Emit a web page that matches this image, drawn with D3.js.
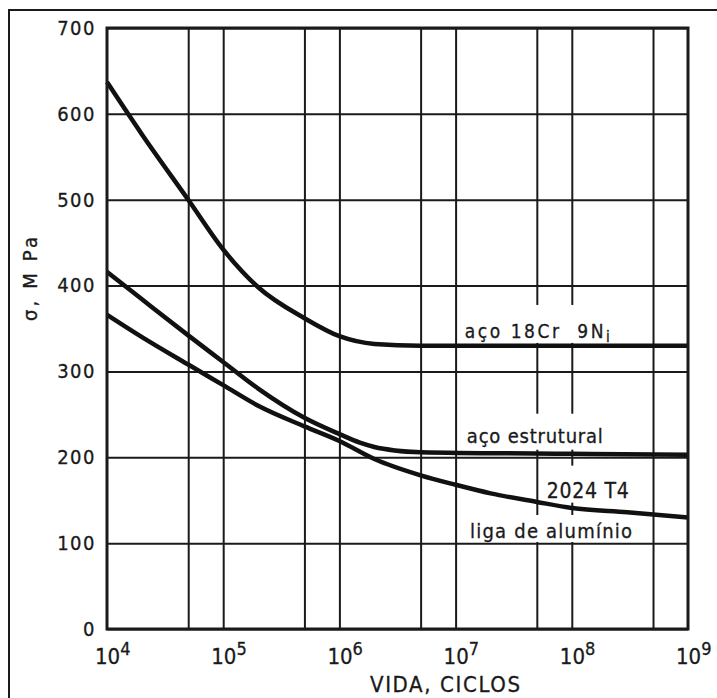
<!DOCTYPE html>
<html>
<head>
<meta charset="utf-8">
<script src="https://cdn.jsdelivr.net/npm/d3@7"></script>
<style>
  html, body { margin: 0; padding: 0; background: #fff; }
  svg { display: block; }
  text { font-family: "DejaVu Sans", sans-serif; font-stretch: condensed; fill: #1a1a1a; stroke: #1a1a1a; stroke-width: 0.3px; }
</style>
</head>
<body>
<div id="chart"></div>
<script>
// Tick values
const yTicks = [0, 100, 200, 300, 400, 500, 600, 700];
const xDecades = [4, 5, 6, 7, 8, 9];
const xGridValues = [5e4, 1e5, 5e5, 1e6, 5e6, 1e7, 5e7, 1e8, 5e8];

// aço 18Cr 9Ni
const cyclesCr = [1e4, 2e4, 5e4, 1e5, 2e5, 5e5, 1e6, 2e6, 5e6, 1e8, 1e9];
const sigmaCr = [637, 576, 500, 442, 398, 362, 341, 332, 330, 330, 330];

// aço estrutural
const cyclesSteel = [1e4, 2e4, 5e4, 1e5, 2e5, 5e5, 1e6, 1.5e6, 2e6, 3e6, 5e6, 1e8, 1e9];
const sigmaSteel = [416, 384, 342, 311, 280, 246, 227, 217, 212, 208, 206, 204, 203];

// 2024 T4 liga de alumínio
const cyclesAl = [1e4, 2e4, 5e4, 1e5, 2e5, 5e5, 1e6, 2e6, 5e6, 1e7, 2e7, 5e7, 1e8, 3e8, 1e9];
const sigmaAl = [366, 340, 308, 284, 260, 236, 219, 198, 179, 168, 158, 148, 141, 136, 130];

const series = [
    { name: 'cr', cycles: cyclesCr, sigma: sigmaCr },
    { name: 'steel', cycles: cyclesSteel, sigma: sigmaSteel },
    { name: 'al', cycles: cyclesAl, sigma: sigmaAl }
];

const width = 717, height = 698;
const margin = { top: 28, right: 29, bottom: 69, left: 107 };
const innerWidth = width - margin.left - margin.right;
const innerHeight = height - margin.top - margin.bottom;
const ink = '#1a1a1a';

const svg = d3.select('#chart').append('svg')
    .attr('width', width)
    .attr('height', height)
    .attr('viewBox', `0 0 ${width} ${height}`);

svg.append('rect').attr('width', width).attr('height', height).attr('fill', '#fff');

// outer frame (only left and top are visible in the scan)
svg.append('path')
    .attr('d', `M9,${height} L9,10 L${width},10`)
    .attr('fill', 'none')
    .attr('stroke', ink)
    .attr('stroke-width', 2);

const g = svg.append('g')
    .attr('transform', `translate(${margin.left},${margin.top})`);

const xScale = d3.scaleLog().domain([1e4, 1e9]).range([0, innerWidth]);
const yScale = d3.scaleLinear().domain([0, 700]).range([innerHeight, 0]);

// Grid horizontal + y labels
const yAxis = g.append('g')
    .call(d3.axisLeft(yScale).tickValues(yTicks).tickSize(-innerWidth).tickPadding(10).tickFormat(d3.format('d')));
yAxis.attr('font-family', null);
yAxis.select('.domain').remove();
yAxis.selectAll('line').attr('stroke', ink).attr('stroke-width', 2);
yAxis.selectAll('text')
    .style('font-size', '20px')
    .style('letter-spacing', '1.5px')
    .attr('fill', ink)
    .attr('x', -11);

// Grid vertical
const xGrid = g.append('g')
    .attr('transform', `translate(0,${innerHeight})`)
    .call(d3.axisBottom(xScale).tickValues(xGridValues).tickSize(-innerHeight).tickFormat(''));
xGrid.select('.domain').remove();
xGrid.selectAll('line').attr('stroke', ink).attr('stroke-width', 2);

// x labels 10^n
const xLabels = g.append('g');
xDecades.forEach(e => {
    const t = xLabels.append('text')
        .attr('x', xScale(Math.pow(10, e)) - 12)
        .attr('y', innerHeight + 35)
        .style('font-size', '22px');
    t.append('tspan').text('10');
    t.append('tspan').attr('dy', -9).style('font-size', '18px').text(e);
});

// curve labels with white masks behind them
const labels = [
    { text: 'aço 18Cr  9N', sub: 'i', n: 1.2e7, s: 339, size: 19, len: 145, padTop: 33, padBot: 5 },
    { text: 'aço estrutural', n: 1.25e7, s: 217, size: 20, len: 136, padTop: 29, padBot: 7 },
    { text: '2024 T4', n: 6.1e7, s: 153, size: 21, len: 82, padTop: 32, padBot: 5 },
    { text: 'liga de alumínio', n: 1.33e7, s: 106, size: 20, len: 162, padTop: 23, padBot: 4 }
];
const labelG = g.append('g');
labels.forEach(l => {
    const x = xScale(l.n), y = yScale(l.s);
    labelG.append('rect')
        .attr('x', x - 4)
        .attr('y', y - l.padTop)
        .attr('width', l.len + 8)
        .attr('height', l.padTop + l.padBot)
        .attr('fill', '#fff');
    const t = labelG.append('text')
        .attr('x', x)
        .attr('y', y)
        .attr('textLength', l.len)
        .attr('lengthAdjust', 'spacing')
        .style('white-space', 'pre')
        .style('font-size', l.size + 'px');
    t.append('tspan').text(l.text);
    if (l.sub) t.append('tspan').attr('dy', 4).style('font-size', '15px').text(l.sub);
});

// curves
const line = d3.line()
    .x(d => xScale(d[0]))
    .y(d => yScale(d[1]))
    .curve(d3.curveMonotoneX);

series.forEach(s => {
    g.append('path')
        .datum(s.cycles.map((c, i) => [c, s.sigma[i]]))
        .attr('class', `line ${s.name}`)
        .attr('d', line)
        .attr('fill', 'none')
        .attr('stroke', '#111')
        .attr('stroke-width', 4.5)
        .attr('stroke-linejoin', 'round');
});

// plot border
g.append('rect')
    .attr('width', innerWidth)
    .attr('height', innerHeight)
    .attr('fill', 'none')
    .attr('stroke', ink)
    .attr('stroke-width', 3);

// axis titles
svg.append('text')
    .attr('x', 445)
    .attr('y', 692)
    .attr('text-anchor', 'middle')
    .attr('textLength', 150)
    .attr('lengthAdjust', 'spacing')
    .style('font-size', '22px')
    .text('VIDA, CICLOS');

svg.append('text')
    .attr('transform', 'translate(37,279) rotate(-90)')
    .attr('text-anchor', 'middle')
    .attr('textLength', 84)
    .attr('lengthAdjust', 'spacing')
    .style('font-size', '20px')
    .text('σ, M Pa');
</script>
</body>
</html>
